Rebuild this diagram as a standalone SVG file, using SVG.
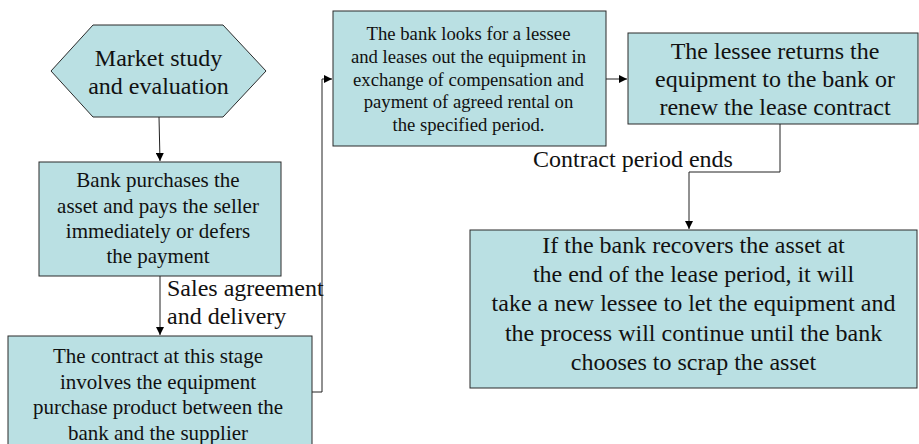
<svg xmlns="http://www.w3.org/2000/svg" width="919" height="444" viewBox="0 0 919 444">
<defs>
<style>
.box{fill:#bae0e3;stroke:#2b2b2b;stroke-width:1}
.t{fill:#111;text-anchor:middle}
.lbl{fill:#111;font-size:24px}
.c{fill:none;stroke:#222;stroke-width:1}
</style>
<marker id="ah" viewBox="0 0 10 10" refX="10" refY="5" markerWidth="8" markerHeight="8" markerUnits="userSpaceOnUse" orient="auto">
<path d="M0,0 L10,5 L0,10 z" fill="#000"/>
</marker>
</defs>
<rect width="919" height="444" fill="#fff"/>
<g id="connectors">
<path class="c" d="M159,117 L160,161" marker-end="url(#ah)"/>
<path class="c" d="M160,276 L160,335" marker-end="url(#ah)"/>
<path class="c" d="M312,392 L322,392 L322,79 L332,79" marker-end="url(#ah)"/>
<path class="c" d="M606,79 L627,79" marker-end="url(#ah)"/>
<path class="c" d="M780,124 L780,172 L689,172 L689,229" marker-end="url(#ah)"/>
</g>
<g font-family="'Liberation Serif', 'Times New Roman', serif">
<g id="labels">
<text class="lbl" x="167" y="296">Sales agreement</text>
<text class="lbl" x="167" y="324">and delivery</text>
<text class="lbl" x="533" y="167">Contract period ends</text>
</g>
<g id="n1">
<polygon class="box" points="51,71 93,25 223,25 266,71 223,117 93,117"/>
<text class="t" font-size="24" x="158.5" y="66">Market study</text>
<text class="t" font-size="24" x="158.5" y="94">and evaluation</text>
</g>
<g id="n2">
<rect class="box" x="39" y="162" width="242" height="114"/>
<text class="t" font-size="21" x="158" y="187">Bank purchases the</text>
<text class="t" font-size="21" x="158" y="213">asset and pays the seller</text>
<text class="t" font-size="21" x="158" y="238">immediately or defers</text>
<text class="t" font-size="21" x="158" y="263">the payment</text>
</g>
<g id="n3">
<rect class="box" x="8" y="336" width="304" height="124"/>
<text class="t" font-size="21" x="158" y="363">The contract at this stage</text>
<text class="t" font-size="21" x="158" y="389">involves the equipment</text>
<text class="t" font-size="21" x="158" y="414">purchase product between the</text>
<text class="t" font-size="21" x="158" y="440">bank and the supplier</text>
</g>
<g id="n4">
<rect class="box" x="333" y="11" width="273" height="135"/>
<text class="t" font-size="18.7" x="468.5" y="40">The bank looks for a lessee</text>
<text class="t" font-size="18.7" x="468.5" y="63">and leases out the equipment in</text>
<text class="t" font-size="18.7" x="468.5" y="86">exchange of compensation and</text>
<text class="t" font-size="18.7" x="468.5" y="108">payment of agreed rental on</text>
<text class="t" font-size="18.7" x="468.5" y="131">the specified period.</text>
</g>
<g id="n5">
<rect class="box" x="628" y="33" width="290" height="91"/>
<text class="t" font-size="24" x="775" y="59">The lessee returns the</text>
<text class="t" font-size="24" x="775" y="87">equipment to the bank or</text>
<text class="t" font-size="24" x="775" y="115">renew the lease contract</text>
</g>
<g id="n6">
<rect class="box" x="470" y="230" width="447" height="158"/>
<text class="t" font-size="24" x="693.5" y="253">If the bank recovers the asset at</text>
<text class="t" font-size="24" x="693.5" y="282">the end of the lease period, it will</text>
<text class="t" font-size="24" x="693.5" y="311">take a new lessee to let the equipment and</text>
<text class="t" font-size="24" x="693.5" y="341">the process will continue until the bank</text>
<text class="t" font-size="24" x="693.5" y="370">chooses to scrap the asset</text>
</g>
</g>
</svg>
